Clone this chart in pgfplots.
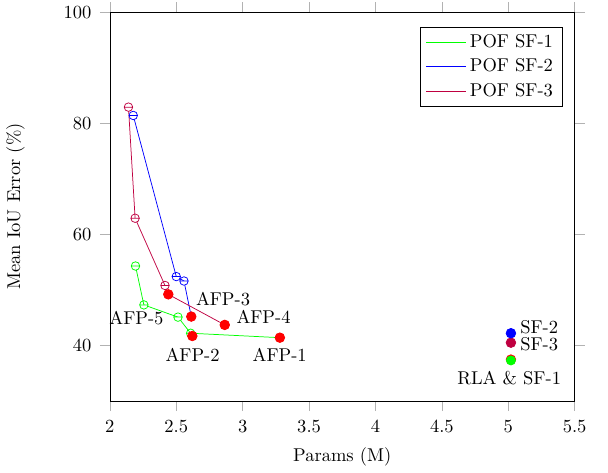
\documentclass[border=0pt]{standalone}
\usepackage{pgfplots}
\pgfplotsset{compat=1.18}
\usetikzlibrary{plotmarks}

\begin{document}
\begin{tikzpicture}
\begin{axis}[
    name=ax,
    scale only axis,
    width=251pt, height=210pt,
    xmin=2, xmax=5.5,
    ymin=30, ymax=100,
    xtick={2,2.5,...,5.5},
    ytick={40,60,80,100},
    tick align=outside,
    major tick length=5.4pt,
    tick style={black!30},
    xticklabel style={yshift=-1.5pt},
    yticklabel style={xshift=-1pt},
    xlabel={Params (M)},
    xlabel style={yshift=-1.5pt},
    ylabel={Mean IoU Error (\%)},
    every axis y label/.style={at={(rel axis cs:0,0.5)}, xshift=-51pt, rotate=90, anchor=center},
    legend cell align=left,
    legend style={at={(1,1)}, anchor=north east, xshift=-6.5pt, yshift=-8pt, draw=black, row sep=0.5pt},
    legend image code/.code={\draw[mark repeat=2,mark phase=2,#1] plot coordinates {(0cm,0cm) (0.375cm,0cm) (0.75cm,0cm)};},
    legend image post style={mark=none},
]
% Pareto fronts
\addplot[green, mark=halfcircle, mark size=2.3pt, mark options={fill=white}]
  coordinates {(2.193,54.3) (2.256,47.3) (2.513,45.1) (2.608,42.2) (3.28,41.4)};
\addlegendentry{POF SF-1}
\addplot[blue, mark=halfcircle, mark size=2.3pt, mark options={fill=white}]
  coordinates {(2.176,81.4) (2.50,52.4) (2.558,51.6) (2.613,45.2)};
\addlegendentry{POF SF-2}
\addplot[purple, mark=halfcircle, mark size=2.3pt, mark options={fill=white}]
  coordinates {(2.14,82.9) (2.19,62.9) (2.415,50.8) (2.44,49.2) (2.865,43.7)};
\addlegendentry{POF SF-3}

% AFP points
\addplot[only marks, mark=*, mark size=2.6pt, red, forget plot]
  coordinates {(3.28,41.4) (2.621,41.7) (2.613,45.2) (2.865,43.7) (2.44,49.2)};

% baselines
\addplot[only marks, mark=*, mark size=2.6pt, red, forget plot] coordinates {(5.02,37.45)};
\addplot[only marks, mark=*, mark size=2.45pt, green, forget plot] coordinates {(5.02,37.3)};
\addplot[only marks, mark=*, mark size=2.6pt, purple, forget plot] coordinates {(5.02,40.5)};
\addplot[only marks, mark=*, mark size=2.6pt, blue, forget plot] coordinates {(5.02,42.2)};

\node[anchor=base, inner sep=0pt] at (axis cs:2.852,47.2) {AFP-3};
\node[anchor=base, inner sep=0pt] at (axis cs:3.157,43.9) {AFP-4};
\node[anchor=base, inner sep=0pt] at (axis cs:2.623,37.1) {AFP-2};
\node[anchor=base, inner sep=0pt] at (axis cs:3.279,37.1) {AFP-1};
\node[anchor=base, inner sep=0pt] at (axis cs:2.20,43.7) {AFP-5};
\node[anchor=base west, inner sep=0pt] at (axis cs:5.088,42.1) {SF-2};
\node[anchor=base west, inner sep=0pt] at (axis cs:5.088,39.1) {SF-3};
\node[anchor=base, inner sep=0pt] at (axis cs:5.007,33.0) {RLA \& SF-1};
\end{axis}
\path ([xshift=18pt]ax.north east);
\end{tikzpicture}
\end{document}
